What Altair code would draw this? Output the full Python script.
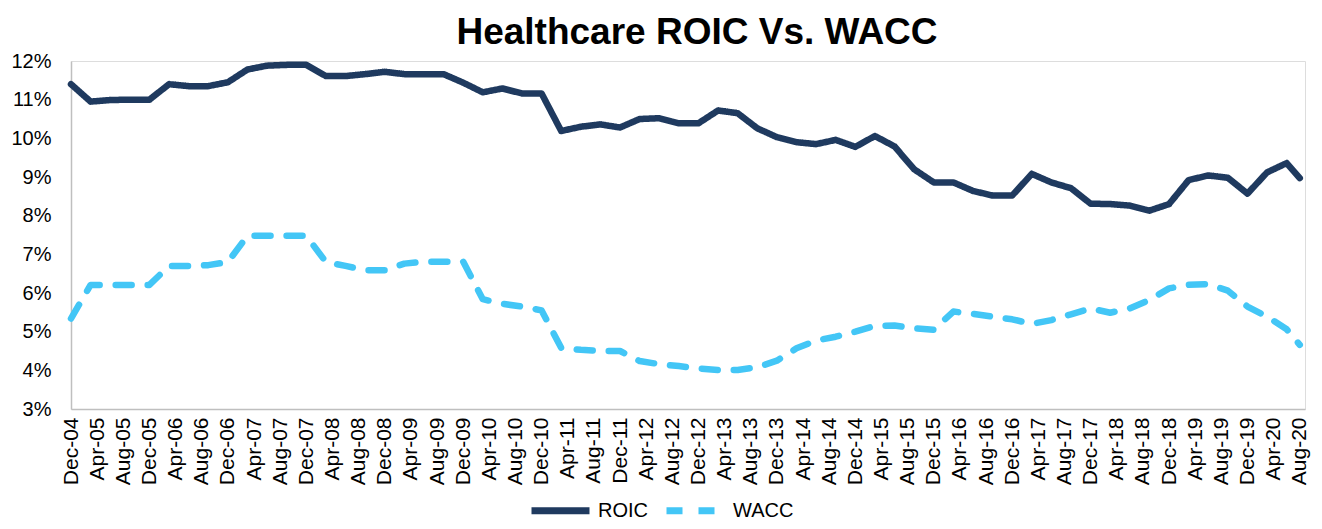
import altair as alt
import pandas as pd

# ---- data (percent) ----
series_names = ["ROIC", "WACC"]

# quarterly observation dates Dec-04 ... Jun-20, plus Aug-20
obs_dates = list(pd.date_range("2004-12-01", "2020-06-01", freq="3MS")) + [pd.Timestamp("2020-08-01")]

roic = [11.40, 10.95, 10.99, 11.00, 11.00, 11.40, 11.35, 11.35, 11.45, 11.78,
        11.88, 11.90, 11.90, 11.61, 11.61, 11.66, 11.72, 11.66, 11.66, 11.66,
        11.44, 11.19, 11.29, 11.16, 11.16, 10.19, 10.30, 10.36, 10.28, 10.50,
        10.52, 10.39, 10.39, 10.72, 10.65, 10.26, 10.03, 9.90, 9.85, 9.96,
        9.78, 10.06, 9.79, 9.20, 8.86, 8.86, 8.64, 8.52, 8.52, 9.08,
        8.86, 8.71, 8.31, 8.30, 8.26, 8.13, 8.30, 8.92, 9.04, 8.98,
        8.57, 9.12, 9.36, 8.97]

wacc = [5.34, 6.21, 6.21, 6.21, 6.21, 6.70, 6.70, 6.72, 6.80, 7.48,
        7.48, 7.48, 7.48, 6.80, 6.70, 6.59, 6.59, 6.76, 6.81, 6.81,
        6.81, 5.84, 5.72, 5.65, 5.55, 4.58, 4.53, 4.50, 4.50, 4.24,
        4.16, 4.11, 4.05, 4.01, 4.01, 4.08, 4.25, 4.57, 4.77, 4.87,
        5.00, 5.15, 5.16, 5.09, 5.05, 5.52, 5.46, 5.39, 5.32, 5.20,
        5.30, 5.45, 5.60, 5.49, 5.60, 5.82, 6.12, 6.21, 6.23, 6.06,
        5.65, 5.39, 5.06, 4.66]

# x-axis tick labels, every 4 months
tick_dates = list(pd.date_range("2004-12-01", "2020-08-01", freq="4MS"))
tick_labels = [d.strftime("%b-%y") for d in tick_dates]

y_ticks = [3, 4, 5, 6, 7, 8, 9, 10, 11, 12]


def month_index(d):
    return (d.year - 2004) * 12 + d.month - 12


rows = []
for name, vals in zip(series_names, [roic, wacc]):
    for d, v in zip(obs_dates, vals):
        rows.append({"m": month_index(d), "v": v / 100.0, "series": name})
df = pd.DataFrame(rows)

tick_values = [month_index(d) for d in tick_dates]
label_expr = "[" + ",".join("'" + t + "'" for t in tick_labels) + "][round(datum.value/4)]"

FONT = "Liberation Sans"

legend = alt.Legend(
    title=None, orient="none", direction="horizontal",
    legendX=457, legendY=417,
    symbolType="stroke", symbolSize=3364, symbolStrokeWidth=7,
    labelFontSize=20, labelFont=FONT, labelColor="black",
    labelOffset=5, columnPadding=4,
)

chart = alt.Chart(df).mark_line(
    strokeWidth=6.5, strokeCap="round", strokeJoin="round"
).encode(
    x=alt.X("m:Q",
            scale=alt.Scale(domain=[0, 188.8], nice=False, zero=False),
            axis=alt.Axis(values=tick_values, labelExpr=label_expr, labelAngle=-90,
                          title=None, grid=False, ticks=False, domainColor="#bfbfbf",
                          domainWidth=1.5, labelFontSize=21, labelFont=FONT,
                          labelColor="black", labelPadding=8, labelOverlap=False,
                          labelFlush=False)),
    y=alt.Y("v:Q",
            scale=alt.Scale(domain=[0.03, 0.12], nice=False, zero=False),
            axis=alt.Axis(values=[t / 100 for t in y_ticks], format=".0%",
                          title=None, grid=False, ticks=False, domainColor="#bfbfbf",
                          domainWidth=1.5, labelFontSize=20, labelFont=FONT,
                          labelColor="black", labelPadding=20, labelFlush=False,
                          labelOverlap=False)),
    color=alt.Color("series:N",
                    scale=alt.Scale(domain=series_names, range=["#1f3a5f", "#43c6f6"]),
                    legend=legend),
    strokeDash=alt.StrokeDash("series:N",
                              scale=alt.Scale(domain=series_names, range=[[1, 0], [16, 16]]),
                              legend=legend),
).properties(
    width=1234,
    height=348,
    title=alt.TitleParams("Healthcare ROIC Vs. WACC", fontSize=37, font=FONT,
                          fontWeight="bold", anchor="middle", offset=10, dx=9, dy=11,
                          color="black"),
    autosize=alt.AutoSizeParams(type="none"),
    padding={"left": 63, "top": 53, "right": 9, "bottom": 112},
).configure_view(stroke=None).configure(background="white")

chart.save("out.html", embed_options={"renderer": "svg", "actions": False})
